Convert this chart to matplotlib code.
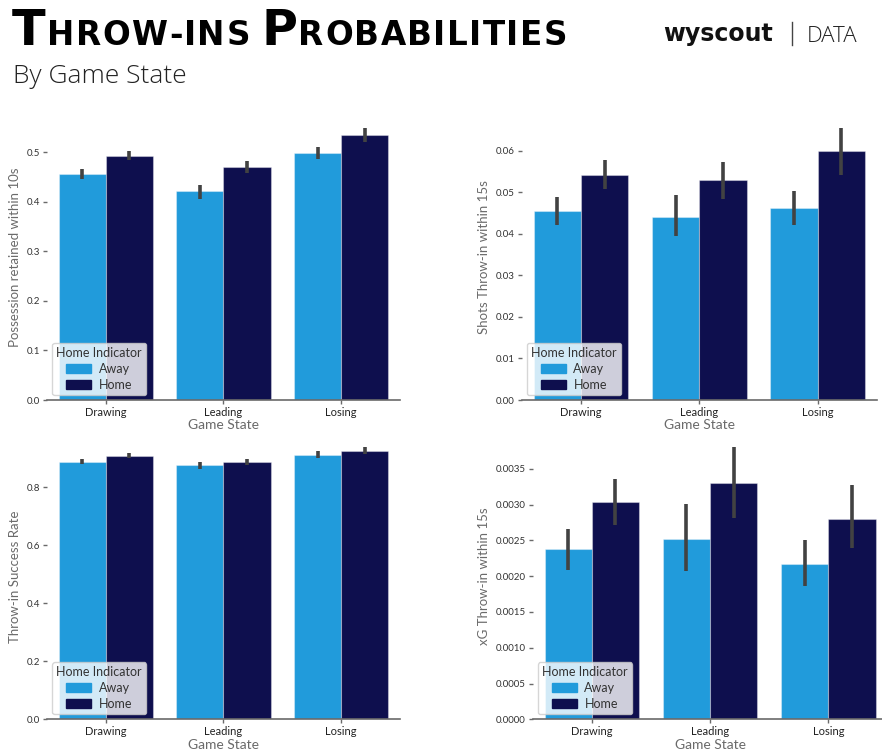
import matplotlib
matplotlib.use("Agg")
import matplotlib.pyplot as plt
from matplotlib.ticker import MultipleLocator, FormatStrFormatter
from matplotlib.patches import Patch
import numpy as np

# ---- data ----
states = ["Drawing", "Leading", "Losing"]
groups = ["Away", "Home"]

poss_away = [0.456, 0.421, 0.498]
poss_away_lo = [0.446, 0.405, 0.486]
poss_away_hi = [0.466, 0.434, 0.510]
poss_home = [0.4935, 0.4707, 0.535]
poss_home_lo = [0.485, 0.458, 0.520]
poss_home_hi = [0.502, 0.483, 0.549]

shots_away = [0.0456, 0.0442, 0.0463]
shots_away_lo = [0.0421, 0.0394, 0.0421]
shots_away_hi = [0.0488, 0.0494, 0.0504]
shots_home = [0.0542, 0.0530, 0.0601]
shots_home_lo = [0.0508, 0.0484, 0.0542]
shots_home_hi = [0.0578, 0.0574, 0.0655]

succ_away = [0.888, 0.876, 0.912]
succ_away_lo = [0.880, 0.863, 0.901]
succ_away_hi = [0.898, 0.887, 0.924]
succ_home = [0.909, 0.886, 0.926]
succ_home_lo = [0.900, 0.876, 0.915]
succ_home_hi = [0.917, 0.896, 0.937]

xg_away = [0.00238, 0.00252, 0.00217]
xg_away_lo = [0.00209, 0.00207, 0.00186]
xg_away_hi = [0.00266, 0.00301, 0.00251]
xg_home = [0.00303, 0.00330, 0.00280]
xg_home_lo = [0.00272, 0.00281, 0.00240]
xg_home_hi = [0.00336, 0.00380, 0.00328]

colors = ["#219bdb", "#0e0f4e"]
err_color = "#424242"
grey = "#6a6a6a"


def bar_panel(ax, away, home, ci_away, ci_home, ylabel, step, fmt):
    x = np.arange(len(states))
    w = 0.4
    for i, (vals, ci) in enumerate([(away, ci_away), (home, ci_home)]):
        pos = x + (i - 0.5) * w
        ax.bar(pos, vals, width=w, color=colors[i],
               edgecolor=(1, 1, 1, 0.35), linewidth=0.8)
        ax.vlines(pos, ci[0], ci[1], color=err_color, linewidth=2.6)
    ax.set_xlim(-0.5, 2.5)
    ax.set_xticks(x)
    ax.set_xticklabels(states, fontsize=8, color="#222222", family="Lato")
    ax.yaxis.set_major_locator(MultipleLocator(step))
    ax.yaxis.set_major_formatter(FormatStrFormatter(fmt))
    ax.tick_params(axis="both", length=3, width=1, color=grey, pad=2)
    ax.tick_params(axis="y", labelsize=7, labelcolor="#333333")
    for lab in ax.get_yticklabels():
        lab.set_family("Lato")
    for s in ["top", "right", "left"]:
        ax.spines[s].set_visible(False)
    ax.spines["bottom"].set_color(grey)
    ax.spines["bottom"].set_linewidth(1.2)
    ax.set_ylabel(ylabel, fontsize=9.5, color=grey, family="Lato", labelpad=4)
    ax.set_xlabel("Game State", fontsize=10, color=grey, family="Lato",
                  labelpad=1)
    handles = [Patch(color=colors[0], label="Away"),
               Patch(color=colors[1], label="Home")]
    leg = ax.legend(handles=handles, title="Home Indicator", loc="lower left",
                    prop={"family": "Lato", "size": 9},
                    title_fontproperties={"family": "Lato", "size": 9},
                    framealpha=0.8, edgecolor="#cccccc", borderaxespad=0.4,
                    handlelength=2.0, handleheight=0.7, labelspacing=0.3,
                    borderpad=0.35, handletextpad=0.6, fancybox=True)
    leg.get_title().set_color("#333333")
    for t in leg.get_texts():
        t.set_color("#333333")


fig = plt.figure(figsize=(8.82, 7.53), dpi=100)
W, H = 882.0, 753.0


def rect(left, right, bottom, top):
    return [left / W, 1 - bottom / H, (right - left) / W, (bottom - top) / H]


ax1 = fig.add_axes(rect(47, 400, 400, 114.5))
ax2 = fig.add_axes(rect(521.7, 876.7, 400, 114.5))
ax3 = fig.add_axes(rect(47, 400, 719.3, 433.8))
ax4 = fig.add_axes(rect(532.7, 887.5, 719.3, 433.8))

bar_panel(ax1, poss_away, poss_home, (poss_away_lo, poss_away_hi),
          (poss_home_lo, poss_home_hi), "Possession retained within 10s",
          0.1, "%.1f")
bar_panel(ax2, shots_away, shots_home, (shots_away_lo, shots_away_hi),
          (shots_home_lo, shots_home_hi), "Shots Throw-in within 15s",
          0.01, "%.2f")
bar_panel(ax3, succ_away, succ_home, (succ_away_lo, succ_away_hi),
          (succ_home_lo, succ_home_hi), "Throw-in Success Rate", 0.2, "%.1f")
bar_panel(ax4, xg_away, xg_home, (xg_away_lo, xg_away_hi),
          (xg_home_lo, xg_home_hi), "xG Throw-in within 15s", 0.0005, "%.4f")

# ---- title in small caps, letter by letter with tracking fitted to width ----
renderer = fig.canvas.get_renderer()
title_words = [("T", "HROW-INS"), ("P", "ROBABILITIES")]
big_size, small_size = 35.5, 23.5


def draw_title(track, word_gap):
    texts = []
    x_px = 12
    base = 1 - 45 / H
    for first, rest in title_words:
        for j, ch in enumerate(first + rest):
            size = big_size if j == 0 else small_size
            t = fig.text(x_px / W, base, ch, fontsize=size, fontweight="bold",
                         family="DejaVu Sans", va="baseline", ha="left",
                         color="black")
            texts.append(t)
            x_px = t.get_window_extent(renderer).x1 + track
        x_px += word_gap
    return texts, x_px - word_gap - track


texts, end_px = draw_title(0.0, 10.0)
for t in texts:
    t.remove()
n_gaps = sum(len(a + b) for a, b in title_words) - 1
extra = (567 - end_px) / n_gaps
draw_title(extra, 10.0)

fig.text(13 / W, 1 - 83 / H, "By Game State", fontsize=19, fontweight="light",
         family="Open Sans", va="baseline", ha="left", color="#222222")

# ---- wyscout | DATA mark ----
logo = fig.text(663 / W, 1 - 41.5 / H, "wyscout", fontsize=16,
                fontweight="bold", family="DejaVu Sans", va="baseline",
                ha="left", color="#111111")
lw_px = logo.get_window_extent(renderer).width
logo.set_fontsize(16 * 110 / lw_px)
fig.add_artist(plt.Line2D([791.7 / W, 791.7 / W], [1 - 22 / H, 1 - 45 / H],
                          color="#444444", linewidth=1))
fig.text(807 / W, 1 - 41.5 / H, "DATA", fontsize=16, fontweight="light",
         family="Open Sans", va="baseline", ha="left", color="#222222")

fig.savefig("out.png", dpi=100)
